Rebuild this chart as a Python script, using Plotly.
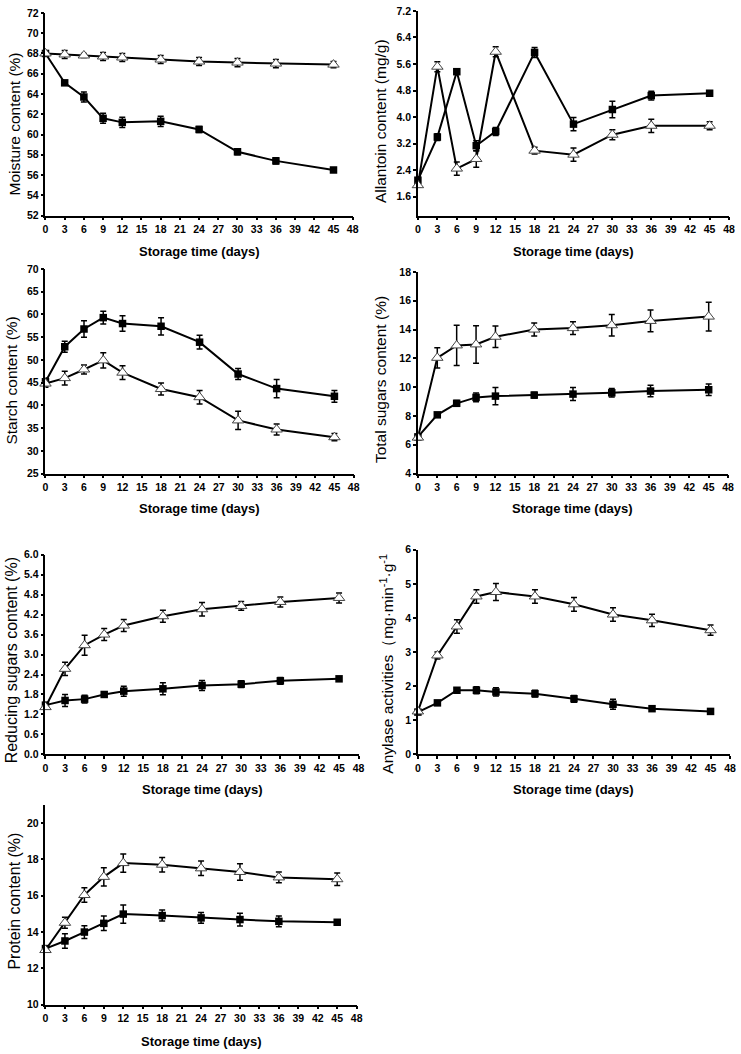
import plotly.graph_objects as go

days = [0, 3, 6, 9, 12, 18, 24, 30, 36, 45]

moisture_sq = [68.0, 65.1, 63.7, 61.6, 61.2, 61.3, 60.5, 58.3, 57.4, 56.5]
moisture_sq_err = [0.2, 0.2, 0.5, 0.5, 0.5, 0.5, 0.3, 0.3, 0.3, 0.15]
moisture_tri = [68.0, 67.9, 67.8, 67.7, 67.6, 67.4, 67.2, 67.1, 67.0, 66.9]
moisture_tri_err = [0.2, 0.4, 0.2, 0.4, 0.4, 0.4, 0.4, 0.4, 0.4, 0.3]

allantoin_sq = [2.1, 3.4, 5.37, 3.14, 3.57, 5.95, 3.79, 4.23, 4.65, 4.72]
allantoin_sq_err = [0.1, 0.1, 0.08, 0.15, 0.12, 0.15, 0.2, 0.25, 0.13, 0.05]
allantoin_tri = [1.95, 5.52, 2.45, 2.74, 5.97, 2.99, 2.87, 3.47, 3.74, 3.74]
allantoin_tri_err = [0.05, 0.15, 0.2, 0.25, 0.15, 0.1, 0.2, 0.15, 0.2, 0.12]

starch_sq = [45.2, 52.9, 56.8, 59.3, 58.0, 57.4, 53.9, 46.9, 43.7, 42.0]
starch_sq_err = [0.8, 1.2, 1.8, 1.4, 1.7, 1.9, 1.5, 1.2, 2.0, 1.3]
starch_tri = [44.8, 46.0, 47.9, 49.9, 47.2, 43.6, 41.8, 36.7, 34.7, 33.0]
starch_tri_err = [0.8, 1.5, 1.0, 1.7, 1.5, 1.3, 1.5, 2.0, 1.2, 0.8]

sugars_sq = [6.55, 8.08, 8.88, 9.29, 9.38, 9.45, 9.52, 9.61, 9.73, 9.82]
sugars_sq_err = [0.1, 0.1, 0.2, 0.3, 0.6, 0.2, 0.45, 0.3, 0.4, 0.4]
sugars_tri = [6.5, 12.04, 12.9, 12.97, 13.5, 14.0, 14.1, 14.3, 14.6, 14.9]
sugars_tri_err = [0.1, 0.7, 1.4, 1.3, 0.75, 0.45, 0.45, 0.75, 0.75, 1.0]

reducing_sq = [1.48, 1.62, 1.66, 1.80, 1.90, 1.97, 2.07, 2.11, 2.21, 2.27]
reducing_sq_err = [0.05, 0.18, 0.12, 0.08, 0.15, 0.18, 0.15, 0.1, 0.1, 0.05]
reducing_tri = [1.42, 2.57, 3.28, 3.60, 3.87, 4.15, 4.36, 4.46, 4.58, 4.70]
reducing_tri_err = [0.05, 0.2, 0.3, 0.18, 0.18, 0.18, 0.2, 0.13, 0.15, 0.15]

amylase_sq = [1.24, 1.51, 1.88, 1.88, 1.83, 1.78, 1.63, 1.47, 1.34, 1.26]
amylase_sq_err = [0.05, 0.04, 0.07, 0.1, 0.12, 0.1, 0.1, 0.15, 0.05, 0.04]
amylase_tri = [1.26, 2.90, 3.75, 4.63, 4.76, 4.63, 4.40, 4.10, 3.93, 3.64]
amylase_tri_err = [0.05, 0.1, 0.2, 0.2, 0.25, 0.2, 0.2, 0.2, 0.18, 0.15]

protein_sq = [13.08, 13.5, 13.99, 14.47, 14.98, 14.9, 14.77, 14.68, 14.58, 14.53]
protein_sq_err = [0.1, 0.4, 0.35, 0.4, 0.5, 0.3, 0.3, 0.35, 0.3, 0.1]
protein_tri = [13.0, 14.5, 16.03, 17.03, 17.79, 17.7, 17.5, 17.3, 17.0, 16.9]
protein_tri_err = [0.1, 0.3, 0.4, 0.5, 0.5, 0.4, 0.4, 0.45, 0.3, 0.35]

y_titles = [
    "Moisture content (%)",
    "Allantoin content (mg/g)",
    "Starch content (%)",
    "Total sugars content (%)",
    "Reducing sugars content (%)",
    "Anylase activities\uff08mg\u00b7min<sup>-1</sup>\u00b7g<sup>-1</sup>",
    "Protein content (%)",
]
x_title = "Storage time (days)"

W, H = 741, 1054

# pixel box (left, right, top, bottom), y range, tick0, dtick, format,
# y-title x/y/size, x-title y
panels = [
    (moisture_sq, moisture_sq_err, moisture_tri, moisture_tri_err,
     (43, 354, 7, 212), [52, 72], 52, 2, "d", 12, 119, 15.5, 248),
    (allantoin_sq, allantoin_sq_err, allantoin_tri, allantoin_tri_err,
     (420, 735, 5, 212), [1.034, 7.2], 1.6, 0.8, ".1f", 382, 116, 15.5, 248),
    (starch_sq, starch_sq_err, starch_tri, starch_tri_err,
     (43, 355, 266, 473), [25, 70], 25, 5, "d", 9, 379, 15.5, 508),
    (sugars_sq, sugars_sq_err, sugars_tri, sugars_tri_err,
     (420, 734, 269, 473), [4, 18], 4, 2, "d", 382, 378, 15.5, 508),
    (reducing_sq, reducing_sq_err, reducing_tri, reducing_tri_err,
     (43, 360, 555, 757), [0, 6], 0, 0.6, ".1f", 9, 662, 16, 793),
    (amylase_sq, amylase_sq_err, amylase_tri, amylase_tri_err,
     (420, 736, 550, 757), [0, 6], 0, 1, "d", 389, 665, 15.5, 793),
    (protein_sq, protein_sq_err, protein_tri, protein_tri_err,
     (43, 358, 808, 1010), [10, 21], 10, 2, "d", 12, 905, 16, 1047),
]

fig = go.Figure()
annotations = []
tick_font = dict(family="Liberation Sans, Arial", size=10.5, color="black", weight="bold")

for i, (sq, sq_err, tri, tri_err, box, yrange, t0, dt, fmt, tx, ty, tsize, xty) in enumerate(panels):
    n = i + 1
    xa = "x" if n == 1 else f"x{n}"
    ya = "y" if n == 1 else f"y{n}"
    left, right, top, bottom = box

    fig.add_trace(go.Scatter(
        x=days, y=sq, xaxis=xa, yaxis=ya, mode="lines+markers", cliponaxis=False,
        line=dict(color="black", width=2),
        marker=dict(symbol="square", size=7.5, color="black"),
        error_y=dict(type="data", array=sq_err, color="black", thickness=1.5, width=3),
        showlegend=False))
    fig.add_trace(go.Scatter(
        x=days, y=tri, xaxis=xa, yaxis=ya, mode="lines+markers", cliponaxis=False,
        line=dict(color="black", width=2),
        marker=dict(symbol="triangle-up", size=10, color="white",
                    line=dict(color="#444", width=1)),
        error_y=dict(type="data", array=tri_err, color="black", thickness=1.5, width=3),
        showlegend=False))

    axis_common = dict(showline=True, linecolor="black", linewidth=1.5, showgrid=False,
                       zeroline=False, ticks="outside", ticklen=3, tickwidth=1.5,
                       tickcolor="black", tickfont=tick_font, ticklabelstandoff=0)
    fig.update_layout({
        ("xaxis" if n == 1 else f"xaxis{n}"): dict(
            axis_common, domain=[left / W, right / W], anchor=ya, range=[0, 48],
            tick0=0, dtick=3),
        ("yaxis" if n == 1 else f"yaxis{n}"): dict(
            axis_common, domain=[1 - bottom / H, 1 - top / H], anchor=xa, range=yrange,
            tick0=t0, dtick=dt, tickformat=fmt),
    })

    annotations.append(dict(
        text=y_titles[i], x=tx / W, y=1 - ty / H, xref="paper", yref="paper",
        textangle=-90, showarrow=False, xanchor="center", yanchor="middle",
        font=dict(family="Liberation Sans, Arial", size=tsize, color="black")))
    annotations.append(dict(
        text=x_title, x=(left + right) / 2 / W, y=1 - xty / H, xref="paper", yref="paper",
        showarrow=False, xanchor="center", yanchor="middle",
        font=dict(family="Liberation Sans, Arial", size=13, color="black", weight="bold")))

fig.update_layout(
    width=W, height=H, autosize=False,
    margin=dict(l=0, r=0, t=0, b=0),
    paper_bgcolor="white", plot_bgcolor="white",
    annotations=annotations,
)

fig.write_html("out.html", config={"displayModeBar": False},
               post_script="document.body.style.margin='0';")
